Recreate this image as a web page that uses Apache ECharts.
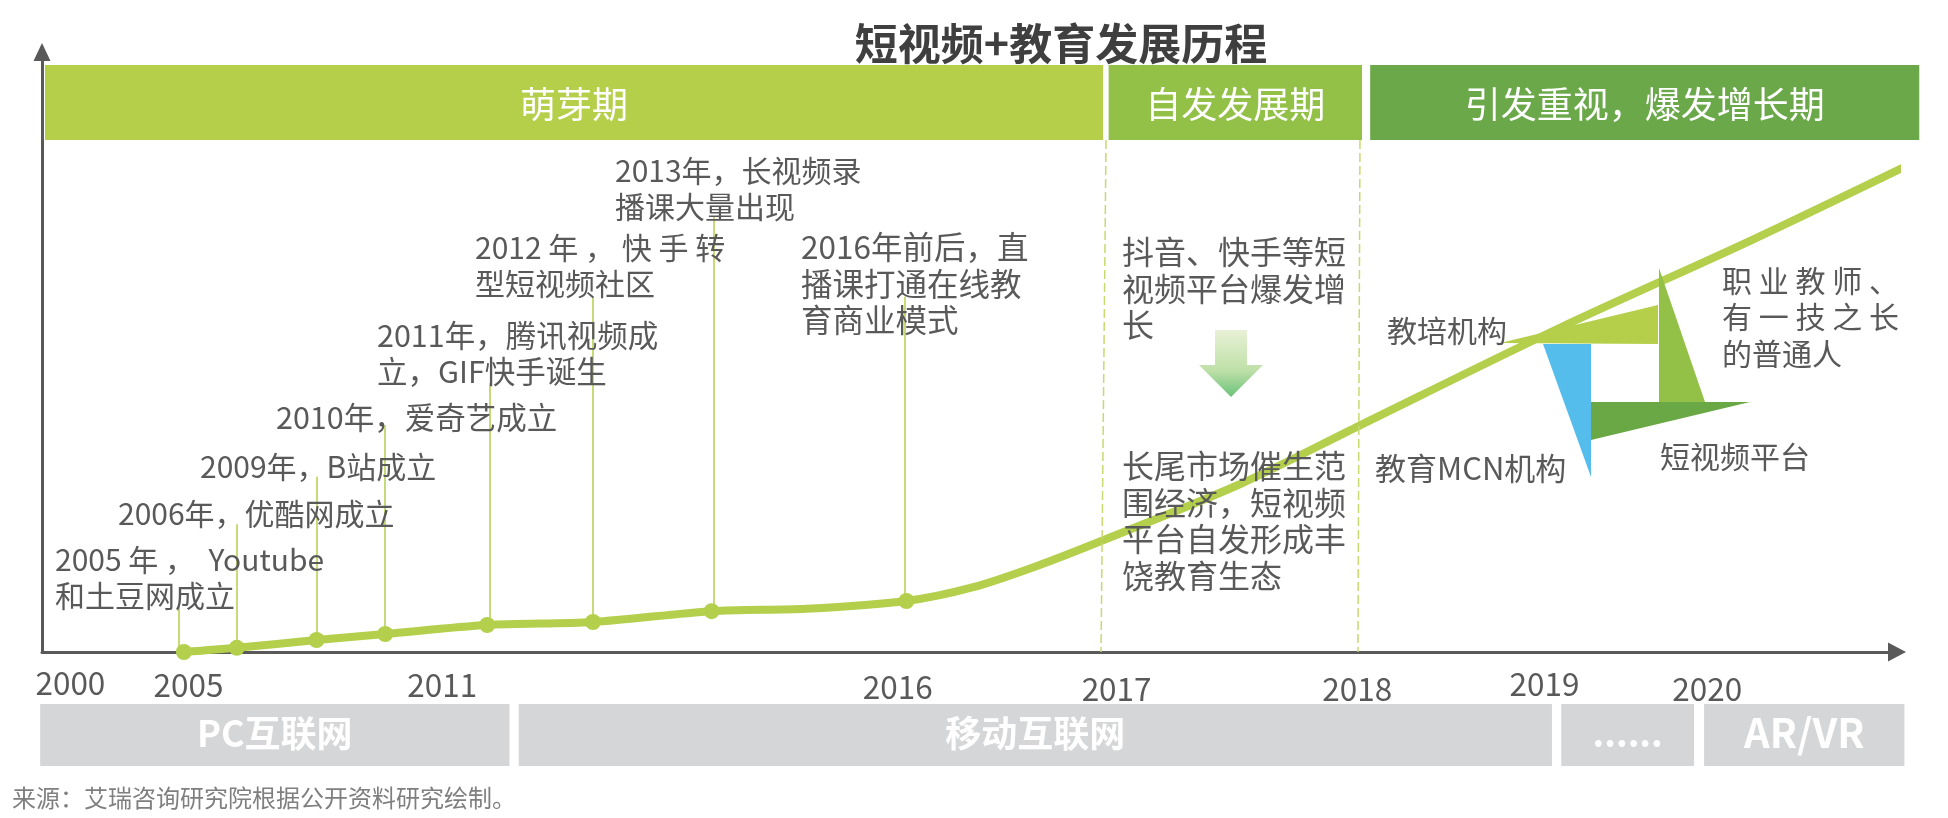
<!DOCTYPE html>
<html>
<head>
<meta charset="utf-8">
<title>短视频+教育发展历程</title>
<style>
  html, body { margin: 0; padding: 0; background: #fff; }
  #chart { width: 1948px; height: 818px; }
</style>
<script src="https://cdn.jsdelivr.net/npm/echarts@6/dist/echarts.min.js"></script>
</head>
<body>
<div id="chart"></div>
<script>
// x is position along the (uneven) timeline 0-100, y is development level 0-100
const curvePos = [7.65, 10.5, 14.8, 18.5, 24.0, 29.7, 36.1, 41.2, 46.6, 50.2, 53.6, 57.1, 64.6, 71.0, 81.8, 92.2, 100.3];
const curveLevel = [0, 0.7, 2, 3, 4.5, 5, 6.8, 7.2, 8.5, 10.8, 14.3, 18.5, 28, 37.7, 54, 68.7, 80.7];

const milestonePos = [7.65, 10.5, 14.8, 18.5, 24.0, 29.7, 36.1, 46.6];
const milestoneLevel = [0, 0.7, 2, 3, 4.5, 5, 6.8, 8.5];
const stemPos = [7.39, 10.5, 14.8, 18.5, 24.15, 29.7, 36.2, 46.5];
const stemTop = [7.7, 21.3, 29.2, 37.8, 44.8, 59.2, 72.5, 59.2];

const tickYears = ["2000", "2005", "2011", "2016", "2017", "2018", "2019", "2020"];
const tickPos = [1.53, 7.9, 21.58, 46.13, 57.93, 70.9, 81.0, 89.77];

const phaseNames = ["萌芽期", "自发发展期", "引发重视，爆发增长期"];
const phaseStart = [0.16, 57.5, 71.6];
const phaseEnd = [57.2, 71.16, 101.2];

const eraNames = ["PC互联网", "移动互联网", "......", "AR/VR"];
const eraStart = [-0.1, 25.7, 81.9, 89.6];
const eraEnd = [25.2, 81.4, 89.06, 100.4];

const noteTexts = [
  "2005 年 ，  Youtube\n和土豆网成立",
  "2006年，优酷网成立",
  "2009年，B站成立",
  "2010年，爱奇艺成立",
  "2011年，腾讯视频成\n立，GIF快手诞生",
  "2012 年 ， 快 手 转\n型短视频社区",
  "2013年，长视频录\n播课大量出现",
  "2016年前后，直\n播课打通在线教\n育商业模式",
  "抖音、快手等短\n视频平台爆发增\n长",
  "长尾市场催生范\n围经济，短视频\n平台自发形成丰\n饶教育生态",
  "教培机构",
  "教育MCN机构",
  "短视频平台",
  "职 业 教 师 、\n有 一 技 之 长\n的普通人"
];
const sourceText = "来源：艾瑞咨询研究院根据公开资料研究绘制。";

const FONT = '"Noto Sans CJK SC", "Noto Sans", sans-serif';
const TEXT = "#595959";
const LIME = "#b3cf4b";

// where each note sits: left, top, font size
const noteLayout = [
  [55, 541, 30], [118, 495, 30], [200, 448, 30], [276, 399, 30.5], [377, 317, 30.5],
  [475, 229, 30], [615, 152, 30], [801, 229, 31.5], [1122, 234, 32], [1122, 448, 32],
  [1387, 312, 30], [1375, 450, 31], [1660, 438, 30], [1722, 262, 30]
];
const phaseColors = ["#b5cf4a", "#93c047", "#6aa84a"];
const eraColors = ["#d5d6d8", "#d5d6d8", "#d5d6d8", "#d5d6d8"];
const eraFontSizes = [36, 36, 36, 40];
const phaseFontSizes = [36, 36, 36];
// how far each year label hangs below the common label line
const tickDrop = [5, 7, 7, 9, 11, 11, 6, 11];
const BAND_TOP = 97.83, BAND_BOTTOM = 85.33;
const ERA_TOP = -8.67, ERA_BOTTOM = -19;

function bandItem(names, colors, top, bottom, sizes, weight, nudge) {
  return function (params, api) {
    const i = params.dataIndex;
    const a = api.coord([api.value(0), top]);
    const b = api.coord([api.value(1), bottom]);
    return {
      type: "group",
      children: [
        { type: "rect", shape: { x: a[0], y: a[1], width: b[0] - a[0], height: b[1] - a[1] }, style: { fill: colors[i] } },
        {
          type: "text",
          x: (a[0] + b[0]) / 2,
          y: (a[1] + b[1]) / 2 + nudge,
          style: { text: names[i], fill: "#fff", font: weight + " " + sizes[i] + "px " + FONT, textAlign: "center", textVerticalAlign: "middle" }
        }
      ]
    };
  };
}

function triangle(points, fill) {
  return { type: "polygon", z: 5, shape: { points: points }, style: { fill: fill } };
}

const graphics = noteTexts.map((t, i) => ({
  type: "text",
  z: 6,
  x: noteLayout[i][0],
  y: noteLayout[i][1],
  style: { text: t, fill: TEXT, font: noteLayout[i][2] + "px " + FONT, lineHeight: 36.5 }
}));
graphics.push(
  triangle([[1500, 343], [1658, 305], [1658, 344]], "#b5cf4a"),
  triangle([[1659, 268], [1705, 402], [1659, 402]], "#93c047"),
  triangle([[1591, 402], [1750, 402], [1591, 440]], "#69a845"),
  triangle([[1543, 344], [1591, 344], [1591, 477]], "#55bdec"),
  {
    type: "polygon",
    z: 5,
    shape: { points: [[1215, 330], [1247, 330], [1247, 365], [1263, 365], [1231, 397], [1199, 365], [1215, 365]] },
    style: {
      fill: new echarts.graphic.LinearGradient(0, 0, 0, 1, [
        { offset: 0, color: "#e8f1d6" },
        { offset: 0.6, color: "#bfe0a8" },
        { offset: 1, color: "#69c27a" }
      ])
    }
  },
  { type: "text", z: 6, x: 12, y: 786, style: { text: sourceText, fill: "#7f7f7f", font: "24px " + FONT } }
);

const tickRich = {};
tickDrop.forEach((d) => {
  tickRich["d" + d] = { padding: [d, 0, 0, 0], color: TEXT, fontFamily: FONT, fontSize: 31.5 };
});

const chart = echarts.init(document.getElementById("chart"));
chart.setOption({
  animation: false,
  backgroundColor: "#fff",
  title: {
    text: "短视频+教育发展历程",
    left: 1056,
    top: 17,
    textAlign: "center",
    textStyle: { fontFamily: FONT, fontSize: 43, fontWeight: "bold", color: "#3f3f3f" }
  },
  grid: { left: 42, right: 51, top: 52, bottom: 166 },
  xAxis: {
    type: "value",
    min: 0,
    max: 100,
    splitLine: { show: false },
    axisTick: { show: false },
    axisLine: { onZero: false, symbol: ["none", "triangle"], symbolSize: [19, 18], lineStyle: { color: "#595959", width: 3 } },
    axisLabel: {
      customValues: tickPos,
      margin: 10,
      color: TEXT,
      fontFamily: FONT,
      fontSize: 31.5,
      rich: tickRich,
      formatter: (v) => {
        const i = tickPos.indexOf(v);
        return "{d" + tickDrop[i] + "|" + tickYears[i] + "}";
      }
    }
  },
  yAxis: {
    type: "value",
    min: 0,
    max: 100,
    splitLine: { show: false },
    axisTick: { show: false },
    axisLabel: { show: false },
    axisLine: { symbol: ["none", "triangle"], symbolSize: [17, 18], lineStyle: { color: "#595959", width: 3 } }
  },
  series: [
    {
      type: "custom",
      name: "phases",
      silent: true,
      z: 1,
      renderItem: bandItem(phaseNames, phaseColors, BAND_TOP, BAND_BOTTOM, phaseFontSizes, "normal", 2),
      encode: { x: [0, 1] },
      data: phaseNames.map((n, i) => [phaseStart[i], phaseEnd[i]])
    },
    {
      type: "custom",
      name: "eras",
      silent: true,
      z: 1,
      renderItem: bandItem(eraNames, eraColors, ERA_TOP, ERA_BOTTOM, eraFontSizes, "bold", -2),
      encode: { x: [0, 1] },
      data: eraNames.map((n, i) => [eraStart[i], eraEnd[i]])
    },
    {
      type: "line",
      name: "curve",
      silent: true,
      clip: false,
      z: 3,
      smooth: 0.3,
      showSymbol: false,
      lineStyle: { color: LIME, width: 8, cap: "butt" },
      data: curvePos.map((x, i) => [x, curveLevel[i]]),
      markLine: {
        silent: true,
        symbol: "none",
        label: { show: false },
        lineStyle: { color: "#c8d96f", width: 1.5, type: [9, 4] },
        data: [
          [{ coord: [57.36, 85.33] }, { coord: [57.09, 0] }],
          [{ coord: [71.05, 85.33] }, { coord: [70.94, 0] }]
        ]
      }
    },
    {
      type: "scatter",
      name: "milestones",
      silent: true,
      clip: false,
      z: 4,
      symbolSize: 16,
      itemStyle: { color: LIME, opacity: 1 },
      data: milestonePos.map((x, i) => [x, milestoneLevel[i]]),
      markLine: {
        silent: true,
        symbol: "none",
        label: { show: false },
        lineStyle: { color: LIME, width: 1.5, type: "solid" },
        data: stemPos.map((x, i) => [{ coord: [x, milestoneLevel[i]] }, { coord: [x, stemTop[i]] }])
      }
    }
  ],
  graphic: { elements: graphics }
});
</script>
</body>
</html>
